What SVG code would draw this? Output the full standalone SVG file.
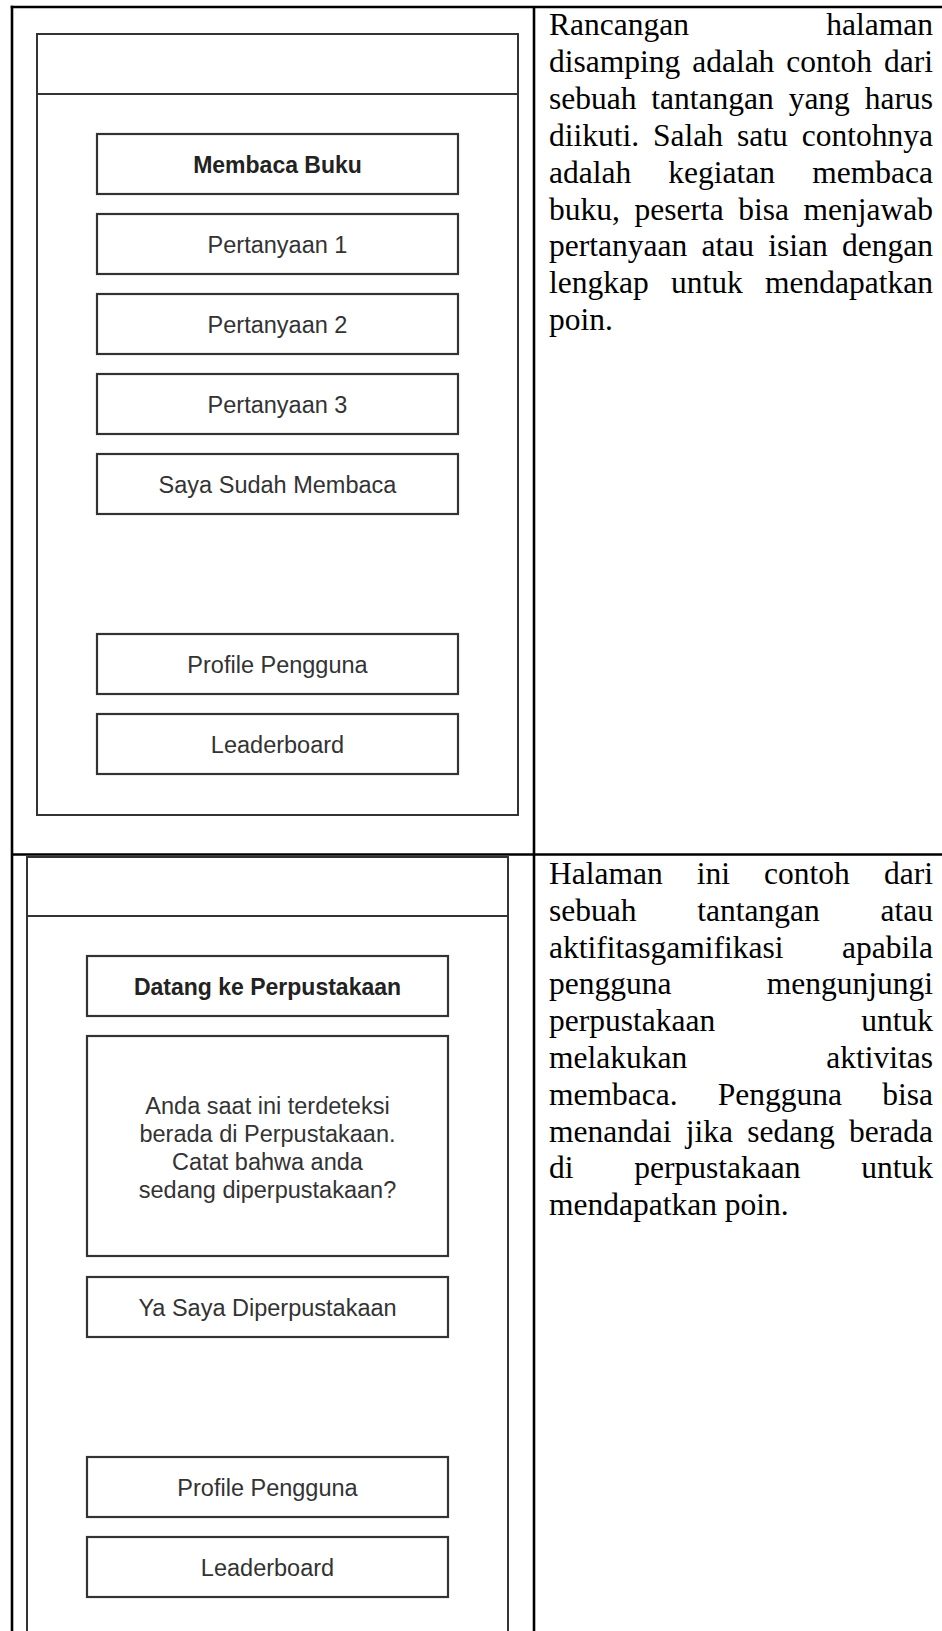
<svg xmlns="http://www.w3.org/2000/svg" width="942" height="1631" viewBox="0 0 942 1631">
<style>
.tbl{stroke:#000;stroke-width:2.6;fill:none}
.frame{fill:#fff;stroke:#333;stroke-width:2}
.hdr{stroke:#333;stroke-width:2}
.btn{fill:#fff;stroke:#333;stroke-width:2.2}
.lbl{font-family:"Liberation Sans",Arial,sans-serif;font-size:23.5px;fill:#333;text-anchor:middle}
.ttl{font-family:"Liberation Sans",Arial,sans-serif;font-size:23px;font-weight:bold;fill:#222;text-anchor:middle}
.body{font-family:"Liberation Serif","Times New Roman",serif;font-size:31.5px;fill:#000}
</style>
<rect width="942" height="1631" fill="#fff"/>

<g id="table">
<line class="tbl" x1="10.7" y1="7" x2="942" y2="7"/>
<line class="tbl" x1="12" y1="5.7" x2="12" y2="1631"/>
<line class="tbl" x1="534" y1="7" x2="534" y2="1631"/>
<line class="tbl" x1="12" y1="854.5" x2="942" y2="854.5"/>
</g>

<g id="screen1">
<rect class="frame" x="37" y="34" width="481" height="781"/>
<line class="hdr" x1="37" y1="94" x2="518" y2="94"/>
</g>
<g id="s1-membaca-buku"><rect class="btn" x="97" y="134" width="361" height="60"/><text class="ttl" x="277.5" y="172.5">Membaca Buku</text></g>
<g id="s1-pertanyaan-1"><rect class="btn" x="97" y="214" width="361" height="60"/><text class="lbl" x="277.5" y="252.5">Pertanyaan 1</text></g>
<g id="s1-pertanyaan-2"><rect class="btn" x="97" y="294" width="361" height="60"/><text class="lbl" x="277.5" y="332.5">Pertanyaan 2</text></g>
<g id="s1-pertanyaan-3"><rect class="btn" x="97" y="374" width="361" height="60"/><text class="lbl" x="277.5" y="412.5">Pertanyaan 3</text></g>
<g id="s1-sudah-membaca"><rect class="btn" x="97" y="454" width="361" height="60"/><text class="lbl" x="277.5" y="492.5">Saya Sudah Membaca</text></g>
<g id="s1-profile"><rect class="btn" x="97" y="634" width="361" height="60"/><text class="lbl" x="277.5" y="672.5">Profile Pengguna</text></g>
<g id="s1-leaderboard"><rect class="btn" x="97" y="714" width="361" height="60"/><text class="lbl" x="277.5" y="752.5">Leaderboard</text></g>

<g id="desc1" class="body">
<text x="549" y="35" word-spacing="129.4">Rancangan halaman</text>
<text x="549" y="71.9" word-spacing="4.05">disamping adalah contoh dari</text>
<text x="549" y="108.8" word-spacing="6.98">sebuah tantangan yang harus</text>
<text x="549" y="145.7" word-spacing="6.08">diikuti. Salah satu contohnya</text>
<text x="549" y="182.6" word-spacing="29.3">adalah kegiatan membaca</text>
<text x="549" y="219.5" word-spacing="6.69">buku, peserta bisa menjawab</text>
<text x="549" y="256.4" word-spacing="6.41">pertanyaan atau isian dengan</text>
<text x="549" y="293.3" word-spacing="14.4">lengkap untuk mendapatkan</text>
<text x="549" y="330.2">poin.</text>
</g>

<g id="screen2">
<rect class="frame" x="27" y="857" width="481" height="800"/>
<line class="hdr" x1="27" y1="916" x2="508" y2="916"/>
</g>
<g id="s2-datang"><rect class="btn" x="87" y="956" width="361" height="60"/><text class="ttl" x="267.5" y="994.5">Datang ke Perpustakaan</text></g>
<g id="s2-info"><rect class="btn" x="87" y="1036" width="361" height="220"/>
<text class="lbl" x="267.5" y="1114">Anda saat ini terdeteksi</text>
<text class="lbl" x="267.5" y="1142">berada di Perpustakaan.</text>
<text class="lbl" x="267.5" y="1170">Catat bahwa anda</text>
<text class="lbl" x="267.5" y="1198">sedang diperpustakaan?</text>
</g>
<g id="s2-ya"><rect class="btn" x="87" y="1277" width="361" height="60"/><text class="lbl" x="267.5" y="1315.5">Ya Saya Diperpustakaan</text></g>
<g id="s2-profile"><rect class="btn" x="87" y="1457" width="361" height="60"/><text class="lbl" x="267.5" y="1495.5">Profile Pengguna</text></g>
<g id="s2-leaderboard"><rect class="btn" x="87" y="1537" width="361" height="60"/><text class="lbl" x="267.5" y="1575.5">Leaderboard</text></g>

<g id="desc2" class="body">
<text x="549" y="884" word-spacing="26.2">Halaman ini contoh dari</text>
<text x="549" y="920.8" word-spacing="52.9">sebuah tantangan atau</text>
<text x="549" y="957.6" word-spacing="50.7">aktifitasgamifikasi apabila</text>
<text x="549" y="994.4" word-spacing="87.4">pengguna mengunjungi</text>
<text x="549" y="1031.2" word-spacing="138.2">perpustakaan untuk</text>
<text x="549" y="1068" word-spacing="131.1">melakukan aktivitas</text>
<text x="549" y="1104.8" word-spacing="32.3">membaca. Pengguna bisa</text>
<text x="549" y="1141.6" word-spacing="6.4">menandai jika sedang berada</text>
<text x="549" y="1178.4" word-spacing="52.9">di perpustakaan untuk</text>
<text x="549" y="1215.2">mendapatkan poin.</text>
</g>
</svg>
